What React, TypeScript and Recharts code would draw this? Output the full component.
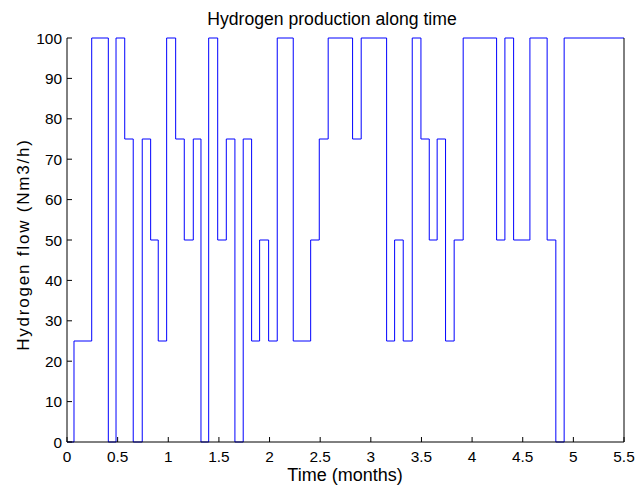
import { LineChart, Line, XAxis, YAxis } from "recharts";

// step change times (months) and the flow held from that time on (Nm3/h)
const times = [
  0, 0.069, 0.244, 0.408, 0.484, 0.57, 0.654, 0.743, 0.826, 0.901, 0.984,
  1.073, 1.158, 1.247, 1.323, 1.399, 1.488, 1.573, 1.658, 1.74, 1.823, 1.902,
  1.991, 2.076, 2.234, 2.406, 2.491, 2.579, 2.82, 2.905, 3.156, 3.235, 3.32,
  3.409, 3.495, 3.577, 3.655, 3.738, 3.823, 3.912, 4.242, 4.324, 4.41, 4.571,
  4.741, 4.827, 4.909, 5.5,
];
const flows = [
  0, 25, 100, 0, 100, 75, 0, 75, 50, 25, 100,
  75, 50, 75, 0, 100, 50, 75, 0, 75, 25, 50,
  25, 100, 25, 50, 75, 100, 75, 100, 25, 50, 25,
  100, 75, 50, 75, 25, 50, 100, 50, 100, 50, 100,
  50, 0, 100, 100,
];

const xTicks = [0, 0.5, 1, 1.5, 2, 2.5, 3, 3.5, 4, 4.5, 5, 5.5];
const yTicks = [0, 10, 20, 30, 40, 50, 60, 70, 80, 90, 100];

const data = times.map((t, i) => ({ t, v: flows[i] }));

const font = "'Liberation Sans', Arial, Helvetica, sans-serif";
const TICK = 5;

const BottomTick = (p: any) => (
  <g>
    <line x1={p.x} y1={p.y} x2={p.x} y2={p.y - TICK} stroke="#000" />
    <text x={p.x} y={p.y + 20} textAnchor="middle" fontSize={15.4} fontFamily={font} fill="#000">
      {p.payload.value}
    </text>
  </g>
);

const TopTick = (p: any) => (
  <line x1={p.x} y1={p.y} x2={p.x} y2={p.y + TICK} stroke="#000" />
);

const LeftTick = (p: any) => (
  <g>
    <line x1={p.x} y1={p.y} x2={p.x + TICK} y2={p.y} stroke="#000" />
    <text x={p.x - 5} y={p.y + 5.5} textAnchor="end" fontSize={15.4} fontFamily={font} fill="#000">
      {p.payload.value}
    </text>
  </g>
);

const RightTick = (p: any) => (
  <line x1={p.x} y1={p.y} x2={p.x - TICK} y2={p.y} stroke="#000" />
);

export default function App() {
  return (
    <div
      style={{
        position: "absolute",
        left: 0,
        top: 0,
        width: 638,
        height: 491,
        background: "#fff",
      }}
    >
      <LineChart
        width={638}
        height={491}
        data={data}
        margin={{ top: 38, right: 4, bottom: 19, left: 27 }}
      >
        <XAxis
          dataKey="t"
          type="number"
          domain={[0, 5.5]}
          ticks={xTicks}
          height={30}
          tickSize={0}
          tickMargin={0}
          tickLine={false}
          axisLine={{ stroke: "#000" }}
          tick={BottomTick}
          interval={0}
        />
        <XAxis
          xAxisId="top"
          orientation="top"
          type="number"
          domain={[0, 5.5]}
          ticks={xTicks}
          height={0}
          tickSize={0}
          tickMargin={0}
          tickLine={false}
          axisLine={{ stroke: "#000" }}
          tick={TopTick}
          interval={0}
        />
        <YAxis
          type="number"
          domain={[0, 100]}
          ticks={yTicks}
          width={40}
          tickSize={0}
          tickMargin={0}
          tickLine={false}
          axisLine={{ stroke: "#000" }}
          tick={LeftTick}
          interval={0}
        />
        <YAxis
          yAxisId="right"
          orientation="right"
          type="number"
          domain={[0, 100]}
          ticks={yTicks}
          width={10}
          tickSize={0}
          tickMargin={0}
          tickLine={false}
          axisLine={{ stroke: "#000" }}
          tick={RightTick}
          interval={0}
        />
        <Line
          type="stepAfter"
          dataKey="v"
          stroke="#0000ff"
          strokeWidth={1}
          dot={false}
          isAnimationActive={false}
        />
      </LineChart>
      <svg
        width={638}
        height={491}
        style={{ position: "absolute", left: 0, top: 0, pointerEvents: "none" }}
        fontFamily={font}
        fill="#000"
      >
        <text x={332} y={25} textAnchor="middle" fontSize={17.6}>
          Hydrogen production along time
        </text>
        <text x={345} y={481} textAnchor="middle" fontSize={18}>
          Time (months)
        </text>
        <text
          transform="translate(29,244.5) rotate(-90)"
          textAnchor="middle"
          fontSize={17}
          letterSpacing={1.8}
        >
          Hydrogen flow (Nm3/h)
        </text>
      </svg>
    </div>
  );
}
